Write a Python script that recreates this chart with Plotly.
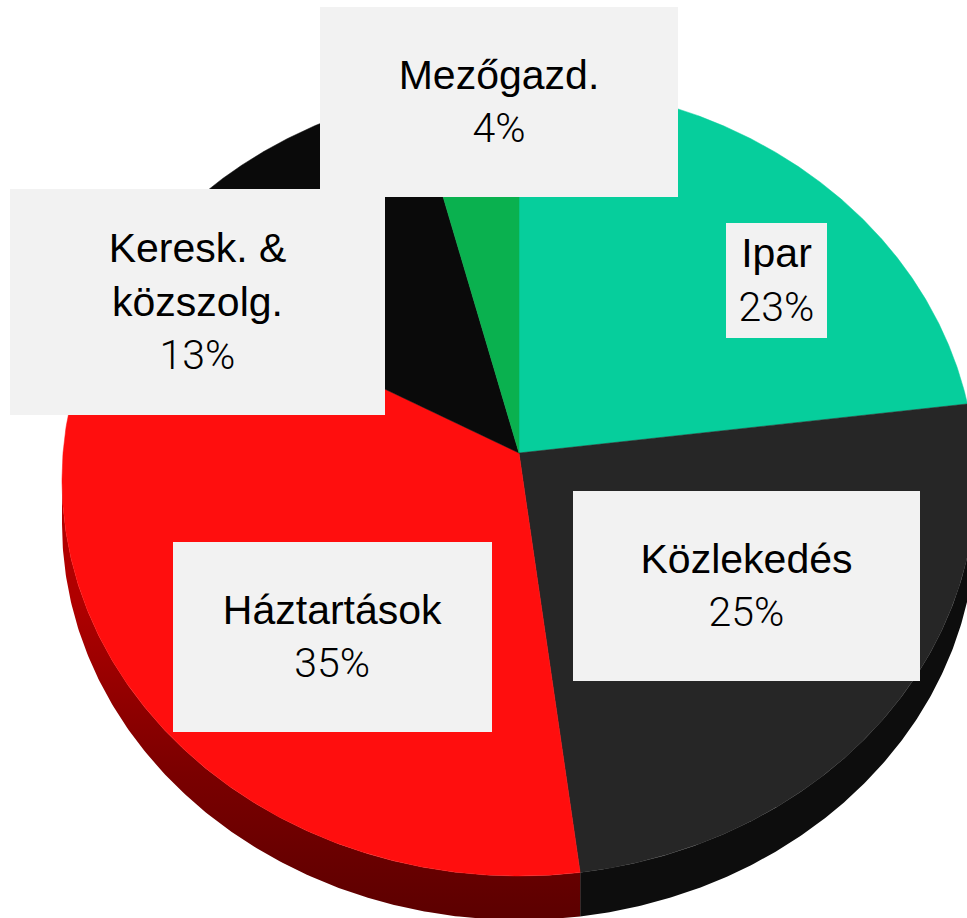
import numpy as np
import plotly.graph_objects as go

# ---- data ----
labels = ["Ipar", "Közlekedés", "Háztartások", "Keresk. &amp;<br>közszolg.", "Mezőgazd."]
values = [23, 25, 35, 13, 4]

# ---- styles ----
top_colors = ["#06CE9C", "#262626", "#FF0E0E", "#0A0A0A", "#0AB14F"]
side_colors = ["#04A07A", "#0D0D0D", "#7A0000", "#050505", "#07803A"]
side_gradients = [None, None, [[0, "#B00000"], [0.55, "#7A0000"], [1, "#5C0000"]], None, None]

W, H = 967, 918
CX, CY, RX, RY = 519, 480, 457, 396      # ellipse of the tilted pie top
APEX_Y = 453                              # projected pie centre
DEPTH = 44                                # visible thickness of the pie
# label boxes: centre x, centre y, width, height (pixels)
boxes = [
    (776.5, 280.5, 101, 115),
    (746.5, 586, 347, 190),
    (332.5, 637, 319, 190),
    (197.5, 302, 375, 226),
    (499, 102, 358, 190),
]


def boundary_phi(theta):
    """Ellipse parameter angle where the slice boundary at pie angle theta meets the rim."""
    e = (CY - APEX_Y) / RY
    c, s = np.cos(theta), np.sin(theta)
    t = -e * c + np.sqrt(e * e * c * c - e * e + 1)
    u = t * s
    w = -e - t * c
    return np.arctan2(u, -w)


def rim(phis, dy=0.0):
    return CX + RX * np.sin(phis), CY - RY * np.cos(phis) + dy


total = float(sum(values))
cum = np.concatenate([[0], np.cumsum(values)]) / total * 2 * np.pi

phis = [np.mod(boundary_phi(a), 2 * np.pi) for a in cum]
phis[0] = 0.0
phis[-1] = 2 * np.pi
phi_edges = [(phis[k], phis[k + 1]) for k in range(len(values))]

fig = go.Figure()

# side walls (drawn first)
for k, (p1, p2) in enumerate(phi_edges):
    lo, hi = max(p1, np.pi / 2), min(p2, 3 * np.pi / 2)
    if lo >= hi:
        continue
    ph = np.linspace(lo, hi, 200)
    xt, yt = rim(ph)
    xb, yb = rim(ph[::-1], DEPTH)
    kw = {}
    if side_gradients[k] is not None:
        kw["fillgradient"] = dict(type="vertical", colorscale=side_gradients[k],
                                  start=600, stop=H)
    else:
        kw["fillcolor"] = side_colors[k]
    fig.add_trace(go.Scatter(
        x=np.concatenate([xt, xb, xt[:1]]), y=np.concatenate([yt, yb, yt[:1]]),
        fill="toself", mode="lines",
        line=dict(color=side_colors[k], width=0), hoverinfo="skip", showlegend=False, **kw))

# top faces
for k, (p1, p2) in enumerate(phi_edges):
    ph = np.linspace(p1, p2, 300)
    xs, ys = rim(ph)
    fig.add_trace(go.Scatter(
        x=np.concatenate([[CX], xs, [CX]]), y=np.concatenate([[APEX_Y], ys, [APEX_Y]]),
        fill="toself", mode="lines", fillcolor=top_colors[k],
        line=dict(color=top_colors[k], width=0.5), name=labels[k],
        hoverinfo="skip", showlegend=False))

for k, (lab, v) in enumerate(zip(labels, values)):
    bx, by, bw, bh = boxes[k]
    fig.add_annotation(
        x=bx, y=by, xref="x", yref="y", xanchor="center", yanchor="middle",
        text=f"{lab}<br><span style=\"font-family:Roboto;font-weight:300\">{v}%</span>",
        showarrow=False, width=bw, height=bh, bgcolor="#F2F2F2", borderpad=0,
        borderwidth=0, align="center", valign="middle",
        font=dict(family="Liberation Sans", size=41, color="#000000"))

fig.update_layout(
    width=W, height=H, autosize=False,
    margin=dict(l=0, r=0, t=0, b=0),
    paper_bgcolor="white", plot_bgcolor="white", showlegend=False,
    hovermode=False,
    xaxis=dict(visible=False, range=[0, W], fixedrange=True),
    yaxis=dict(visible=False, range=[H, 0], fixedrange=True),
)

fig.write_html("out.html",
               config={"displayModeBar": False, "staticPlot": True},
               post_script="document.body.style.margin='0';document.body.style.overflow='hidden';")
